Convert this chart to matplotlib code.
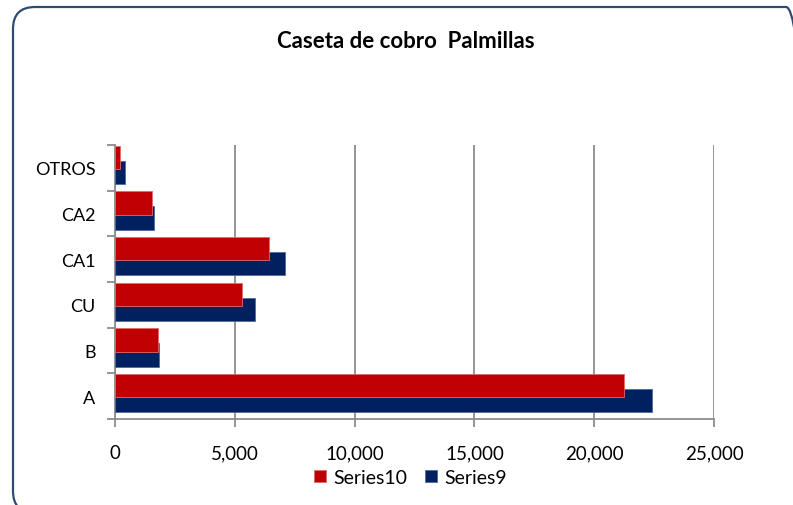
import matplotlib.pyplot as plt
import numpy as np
from matplotlib.patches import FancyBboxPatch
from matplotlib.ticker import FuncFormatter, MultipleLocator

plt.rcParams['font.family'] = ['Lato', 'DejaVu Sans']

categories = ['A', 'B', 'CU', 'CA1', 'CA2', 'OTROS']
series10 = [21250, 1780, 5290, 6420, 1550, 210]
series9 = [22400, 1830, 5860, 7110, 1610, 430]

red = '#C00000'
navy = '#002060'
grid_gray = '#8C8C8C'

fig = plt.figure(figsize=(7.93, 5.06), dpi=100)
ax = fig.add_axes([0.1450, 0.1700, 0.7554, 0.5415])

# rounded chart-area frame (in inches), running past the right and bottom edges
frame = FancyBboxPatch((0.13, -0.08), 7.95, 5.06,
                       boxstyle='round,pad=0,rounding_size=0.22',
                       transform=fig.dpi_scale_trans, fill=False,
                       edgecolor='#2F4B73', linewidth=1.6)
fig.patches.append(frame)

y = np.arange(len(categories))
h = 0.51
ax.barh(y - 0.10, series9, height=h, color=navy, edgecolor='#4A6A9E',
        linewidth=0.6, label='Series9', zorder=3)
ax.barh(y + 0.23, series10, height=h, color=red, edgecolor='#E06A6A',
        linewidth=0.6, label='Series10', zorder=4)

ax.set_xlim(0, 25000)
ax.set_ylim(-0.5, len(categories) - 0.5)
ax.xaxis.set_major_locator(MultipleLocator(5000))
ax.xaxis.set_major_formatter(FuncFormatter(lambda v, p: f'{int(v):,}'))
ax.grid(axis='x', color=grid_gray, linewidth=1.3, zorder=0)

ax.set_yticks(y)
ax.set_yticklabels(categories)
ax.set_yticks(np.arange(-0.5, len(categories)), minor=True)
ax.tick_params(axis='y', which='major', length=0, pad=14, labelsize=13)
ax.tick_params(axis='y', which='minor', length=6, width=1.3, color=grid_gray)
ax.tick_params(axis='x', length=6, width=1.3, color=grid_gray,
               labelsize=13.5, pad=12)

for side in ['top', 'right']:
    ax.spines[side].set_visible(False)
for side in ['left', 'bottom']:
    ax.spines[side].set_color(grid_gray)
    ax.spines[side].set_linewidth(1.3)

fig.text(0.512, 0.917, 'Caseta de cobro  Palmillas', ha='center', va='center',
         fontsize=16, fontweight='bold')

handles, labels = ax.get_legend_handles_labels()
fig.legend(handles[::-1], labels[::-1], loc='center', ncol=2,
           bbox_to_anchor=(0.518, 0.055), frameon=False, fontsize=14,
           handlelength=0.6, handleheight=0.6, handletextpad=0.4,
           columnspacing=0.9)

fig.savefig('out.png', dpi=100)
